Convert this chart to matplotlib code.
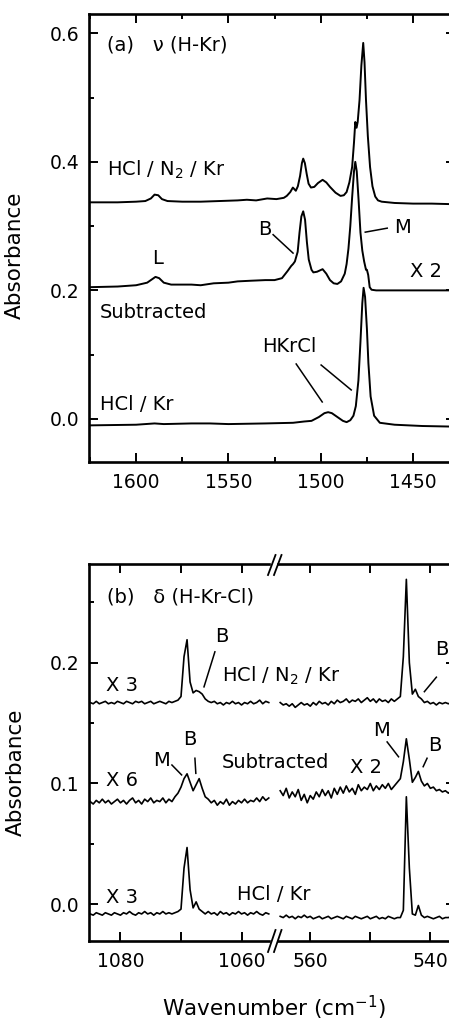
import matplotlib
matplotlib.use('Agg')
import matplotlib.pyplot as plt
from matplotlib.ticker import MultipleLocator, FuncFormatter
from matplotlib.lines import Line2D
import numpy as np

plt.rcParams['font.family'] = ['DejaVu Sans']
plt.rcParams['font.size'] = 13.5

# ---------------- panel (a): nu(H-Kr) ----------------
a_n2_wn = [1625, 1610, 1600, 1595, 1592, 1590, 1588, 1586, 1583, 1575, 1565, 1555,
           1545, 1540, 1535, 1529, 1524, 1520, 1518.4, 1516.5, 1515.1, 1513.5, 1512.4,
           1511.2, 1510.2, 1509.5, 1508.6, 1507.6, 1506.6, 1505.3, 1503.5, 1501.5, 1499,
           1497, 1495, 1492, 1489.3, 1487.5, 1486, 1484.5, 1483, 1482, 1481.3, 1480.6,
           1480, 1479, 1478, 1477, 1476.3, 1475.5, 1474.5, 1473.3, 1472, 1470.5, 1469,
           1467, 1460, 1450, 1440, 1427]
a_n2_abs = [0.337, 0.337, 0.338, 0.339, 0.343, 0.349, 0.348, 0.342, 0.339, 0.338, 0.338, 0.339,
            0.340, 0.341, 0.340, 0.343, 0.342, 0.344, 0.347, 0.353, 0.360, 0.355, 0.362,
            0.378, 0.398, 0.405, 0.398, 0.381, 0.366, 0.360, 0.361, 0.367, 0.372,
            0.368, 0.361, 0.352, 0.347, 0.348, 0.353, 0.368, 0.392, 0.430, 0.462, 0.453,
            0.462, 0.496, 0.550, 0.585, 0.555, 0.496, 0.440, 0.392, 0.362, 0.346, 0.340,
            0.338, 0.336, 0.335, 0.335, 0.334]

a_sub_wn = [1625, 1610, 1600, 1594, 1591, 1589.5, 1587.5, 1585, 1581, 1570, 1565, 1558,
            1550, 1545, 1538, 1530, 1525, 1521, 1518, 1516, 1515, 1514, 1512.5, 1511.5,
            1510.5, 1509.5, 1508.5, 1507.5, 1506.5, 1505, 1504, 1502, 1499, 1497, 1495,
            1493, 1491, 1489, 1487, 1486, 1485, 1484, 1483, 1482, 1481.3, 1480.5, 1479.5,
            1478.5, 1477.5, 1476.5, 1475.5, 1475, 1474.3, 1473.5, 1472.5, 1470, 1460,
            1445, 1427]
a_sub_abs = [0.205, 0.206, 0.208, 0.212, 0.218, 0.221, 0.219, 0.212, 0.209, 0.209, 0.208, 0.211,
             0.212, 0.214, 0.215, 0.216, 0.216, 0.219, 0.230, 0.238, 0.241, 0.245, 0.260, 0.290,
             0.315, 0.323, 0.310, 0.275, 0.248, 0.232, 0.228, 0.229, 0.233, 0.226, 0.216,
             0.211, 0.210, 0.214, 0.226, 0.241, 0.265, 0.300, 0.345, 0.385, 0.400, 0.385, 0.340,
             0.290, 0.262, 0.245, 0.232, 0.232, 0.224, 0.205, 0.201, 0.200, 0.200,
             0.200, 0.200]

a_kr_wn = [1625, 1600, 1590, 1585, 1570, 1560, 1550, 1530, 1515, 1509, 1505, 1501, 1498,
           1496, 1494, 1491, 1488, 1486, 1484, 1482.3, 1481, 1479.6, 1478.5, 1477.5, 1476.8,
           1476, 1475, 1474.2, 1473, 1471.1, 1468, 1460, 1445, 1427]
a_kr_abs = [-0.010, -0.009, -0.007, -0.008, -0.007, -0.007, -0.008, -0.007, -0.006, -0.004,
            -0.003, 0.003, 0.009, 0.0105, 0.009, 0.003, -0.003, -0.005, -0.002, 0.005, 0.020,
            0.060, 0.120, 0.180, 0.204, 0.190, 0.140, 0.087, 0.035, 0.005, -0.006, -0.009,
            -0.011, -0.012]

# ---------------- panel (b): delta(H-Kr-Cl) ----------------
# left segment sampled 1085.0 -> 1055.5 every 0.5 cm-1, right segment 565.0 -> 536.0
b_left_wn = np.linspace(1085.0, 1055.5, 60)
b_right_wn = np.linspace(565.0, 536.0, 59)

b_n2_left = [0.167, 0.166, 0.168, 0.166, 0.167, 0.168, 0.166, 0.167, 0.166, 0.168,
             0.167, 0.166, 0.168, 0.167, 0.166, 0.168, 0.167, 0.168, 0.166, 0.167,
             0.168, 0.166, 0.167, 0.168, 0.167, 0.166, 0.168, 0.167, 0.168, 0.169,
             0.172, 0.205, 0.219, 0.184, 0.175, 0.177, 0.176, 0.174, 0.170, 0.168,
             0.167, 0.168, 0.166, 0.167, 0.165, 0.167, 0.166, 0.168, 0.166, 0.167,
             0.165, 0.167, 0.166, 0.168, 0.166, 0.167, 0.169, 0.166, 0.168, 0.167]
b_sub_left = [0.085, 0.083, 0.086, 0.084, 0.087, 0.084, 0.086, 0.083, 0.085, 0.087,
              0.084, 0.086, 0.083, 0.086, 0.088, 0.084, 0.086, 0.083, 0.087, 0.085,
              0.088, 0.084, 0.086, 0.085, 0.088, 0.084, 0.087, 0.085, 0.089, 0.092,
              0.097, 0.104, 0.108, 0.101, 0.094, 0.099, 0.104, 0.096, 0.089, 0.087,
              0.084, 0.086, 0.082, 0.085, 0.083, 0.087, 0.082, 0.085, 0.083, 0.086,
              0.084, 0.087, 0.084, 0.086, 0.085, 0.088, 0.085, 0.089, 0.086, 0.088]
b_kr_left = [-0.008, -0.009, -0.007, -0.008, -0.009, -0.007, -0.008, -0.009, -0.007, -0.008,
             -0.009, -0.007, -0.008, -0.006, -0.008, -0.009, -0.007, -0.008, -0.006, -0.008,
             -0.007, -0.009, -0.007, -0.008, -0.006, -0.008, -0.007, -0.008, -0.007, -0.006,
             -0.004, 0.030, 0.047, 0.012, -0.003, 0.002, -0.004, -0.006, -0.008, -0.006,
             -0.008, -0.007, -0.009, -0.006, -0.008, -0.007, -0.009, -0.007, -0.008, -0.006,
             -0.008, -0.007, -0.009, -0.007, -0.008, -0.006, -0.008, -0.009, -0.007, -0.008]

b_n2_right = [0.167, 0.165, 0.166, 0.164, 0.166, 0.163, 0.165, 0.167, 0.165, 0.166,
              0.164, 0.167, 0.165, 0.168, 0.166, 0.167, 0.165, 0.168, 0.166, 0.169,
              0.167, 0.168, 0.170, 0.167, 0.169, 0.168, 0.170, 0.167, 0.169, 0.171,
              0.168, 0.170, 0.167, 0.170, 0.168, 0.169, 0.167, 0.170, 0.168, 0.170,
              0.172, 0.205, 0.269, 0.200, 0.174, 0.178, 0.172, 0.170, 0.167, 0.168,
              0.166, 0.167, 0.165, 0.167, 0.166, 0.167, 0.166, 0.167, 0.166]
b_sub_right = [0.094, 0.090, 0.096, 0.088, 0.093, 0.089, 0.095, 0.086, 0.091, 0.084,
               0.090, 0.087, 0.093, 0.089, 0.095, 0.090, 0.094, 0.088, 0.096, 0.091,
               0.097, 0.092, 0.098, 0.093, 0.096, 0.091, 0.099, 0.094, 0.097, 0.095,
               0.100, 0.094, 0.098, 0.095, 0.099, 0.096, 0.100, 0.095, 0.098, 0.101,
               0.104, 0.118, 0.137, 0.120, 0.101, 0.105, 0.110, 0.102, 0.098, 0.100,
               0.096, 0.097, 0.094, 0.095, 0.093, 0.094, 0.092, 0.094, 0.093]
b_kr_right = [-0.010, -0.011, -0.009, -0.011, -0.010, -0.012, -0.010, -0.011, -0.009, -0.011,
              -0.010, -0.012, -0.011, -0.010, -0.012, -0.011, -0.010, -0.012, -0.011, -0.010,
              -0.011, -0.012, -0.010, -0.011, -0.012, -0.010, -0.011, -0.012, -0.011, -0.010,
              -0.012, -0.011, -0.010, -0.012, -0.011, -0.012, -0.010, -0.011, -0.012, -0.011,
              -0.011, -0.005, 0.089, 0.030, -0.008, -0.009, -0.001, -0.009, -0.011, -0.010,
              -0.011, -0.012, -0.011, -0.010, -0.012, -0.011, -0.011, -0.010, -0.011]

W, H = 449, 1021
fig = plt.figure(figsize=(W / 100, H / 100), dpi=100)


def px(x0, y0, x1, y1):
    # figure-pixel box -> add_axes rect
    return [x0 / W, 1 - y1 / H, (x1 - x0) / W, (y1 - y0) / H]


def style(ax):
    for s in ax.spines.values():
        s.set_linewidth(1.9)
    ax.tick_params(which='both', direction='in', top=True, right=True, width=1.4,
                   labelsize=13.5)
    ax.tick_params(which='major', length=6.5)
    ax.tick_params(which='minor', length=3.5)
    ax.tick_params(axis='x', pad=8)
    ax.tick_params(axis='y', pad=7)
    ax.set_facecolor('none')


lw = 1.4
tl = 1.1  # leader lines

# ---- panel (a)
axa = fig.add_axes(px(89, 14, 455, 462))
style(axa)
axa.plot(a_n2_wn, a_n2_abs, color='black', lw=lw)
axa.plot(a_sub_wn, a_sub_abs, color='black', lw=lw)
axa.plot(a_kr_wn, a_kr_abs, color='black', lw=lw)
axa.set_xlim(1625.5, 1427.3)
axa.set_ylim(-0.067, 0.63)
axa.xaxis.set_major_locator(MultipleLocator(50))
axa.xaxis.set_minor_locator(MultipleLocator(25))
axa.yaxis.set_major_locator(MultipleLocator(0.2))
axa.yaxis.set_minor_locator(MultipleLocator(0.1))
axa.yaxis.set_major_formatter(FuncFormatter(lambda v, p: f'{v:.1f}'))
axa.set_ylabel('Absorbance', fontsize=15.5)
axa.yaxis.set_label_coords(-0.175, 0.462)

fs = 14
axa.text(1615.7, 0.581, '(a)   \u03bd (H-Kr)', fontsize=fs, va='center', ha='left')
axa.text(1615.7, 0.387, 'HCl / N$_2$ / Kr', fontsize=fs, va='center', ha='left')
axa.text(1588.6, 0.250, 'L', fontsize=fs, va='center', ha='center')
axa.text(1530.1, 0.294, 'B', fontsize=fs, va='center', ha='center')
axa.plot([1525.8, 1515.0], [0.2867, 0.258], color='black', lw=tl)
axa.text(1455.6, 0.2976, 'M', fontsize=fs, va='center', ha='center')
axa.plot([1475.9, 1464.0], [0.2906, 0.2968], color='black', lw=tl)
axa.text(1451.6, 0.229, 'X 2', fontsize=fs, va='center', ha='left')
axa.text(1619.5, 0.165, 'Subtracted', fontsize=fs, va='center', ha='left')
axa.text(1531.9, 0.112, 'HKrCl', fontsize=fs, va='center', ha='left')
axa.plot([1513.3, 1499.2], [0.0855, 0.0264], color='black', lw=tl)
axa.plot([1499.8, 1483.5], [0.0839, 0.0451], color='black', lw=tl)
axa.text(1619.5, 0.0225, 'HCl / Kr', fontsize=fs, va='center', ha='left')

# ---- panel (b): broken x axis
axl = fig.add_axes(px(89, 564, 273, 941))
axr = fig.add_axes(px(273, 564, 455, 941))
for ax in (axl, axr):
    style(ax)
    ax.set_ylim(-0.0304, 0.2817)
    ax.yaxis.set_major_locator(MultipleLocator(0.1))
    ax.yaxis.set_minor_locator(MultipleLocator(0.05))
    ax.xaxis.set_major_locator(MultipleLocator(10))
    ax.xaxis.set_major_formatter(
        FuncFormatter(lambda v, p: f'{v:.0f}' if round(v) % 20 == 0 else ''))

axl.spines['right'].set_visible(False)
axl.tick_params(which='both', right=False)
axl.yaxis.set_major_formatter(FuncFormatter(lambda v, p: f'{v:.1f}'))
axr.spines['left'].set_visible(False)
axr.tick_params(which='both', left=False, labelleft=False)

axl.set_xlim(1085.2, 1054.8)
axr.set_xlim(566.2, 535.9)

for y in (b_n2_left, b_sub_left, b_kr_left):
    axl.plot(b_left_wn, y, color='black', lw=1.2)
for y in (b_n2_right, b_sub_right, b_kr_right):
    axr.plot(b_right_wn, y, color='black', lw=1.2)

axl.set_ylabel('Absorbance', fontsize=15.5)
axl.yaxis.set_label_coords(-0.345, 0.448)

axl.text(1082.3, 0.2544, '(b)   \u03b4 (H-Kr-Cl)', fontsize=fs, va='center', ha='left')
axl.text(1082.4, 0.1815, 'X 3', fontsize=fs, va='center', ha='left')
axl.text(1063.2, 0.2215, 'B', fontsize=fs, va='center', ha='center')
axl.plot([1064.4, 1066.2], [0.209, 0.180], color='black', lw=tl)
axl.text(1063.3, 0.1894, 'HCl / N$_2$ / Kr', fontsize=fs, va='center', ha='left')
axr.text(539.2, 0.2113, 'B', fontsize=fs, va='center', ha='left')
axr.plot([539.0, 541.0], [0.188, 0.176], color='black', lw=tl)

axl.text(1073.3, 0.119, 'M', fontsize=fs, va='center', ha='center')
axl.plot([1071.5, 1069.9], [0.1153, 0.1071], color='black', lw=tl)
axl.text(1068.5, 0.1368, 'B', fontsize=fs, va='center', ha='center')
axl.plot([1067.7, 1067.55], [0.1209, 0.1084], color='black', lw=tl)
axl.text(1063.3, 0.117, 'Subtracted', fontsize=fs, va='center', ha='left')
axr.text(553.3, 0.1132, 'X 2', fontsize=fs, va='center', ha='left')
axr.text(548.2, 0.1439, 'M', fontsize=fs, va='center', ha='center')
axr.plot([547.2, 545.3], [0.1344, 0.1221], color='black', lw=tl)
axr.text(540.3, 0.1315, 'B', fontsize=fs, va='center', ha='left')
axr.plot([540.55, 541.2], [0.1209, 0.1139], color='black', lw=tl)
axl.text(1082.4, 0.1025, 'X 6', fontsize=fs, va='center', ha='left')
axl.text(1082.4, 0.0056, 'X 3', fontsize=fs, va='center', ha='left')
axl.text(1060.7, 0.0081, 'HCl / Kr', fontsize=fs, va='center', ha='left')

# break marks "//" on the top and bottom spines
for yt, yb in ((555, 575), (930, 952)):
    fig.patches.append(plt.Rectangle((270.5 / W, 1 - (yb - 7) / H), 5 / W, 8 / H,
                                     transform=fig.transFigure, color='white', zorder=5))
    for dx in (0, 6):
        fig.lines.append(Line2D([(268 + dx) / W, (275.5 + dx) / W],
                                [1 - yb / H, 1 - yt / H],
                                transform=fig.transFigure, color='black', lw=1.3,
                                zorder=6))

fig.text(273.5 / W, 1 - 1008 / H, 'Wavenumber (cm$^{-1}$)', fontsize=15.5,
         ha='center', va='center')

fig.savefig('out.png', dpi=100)
